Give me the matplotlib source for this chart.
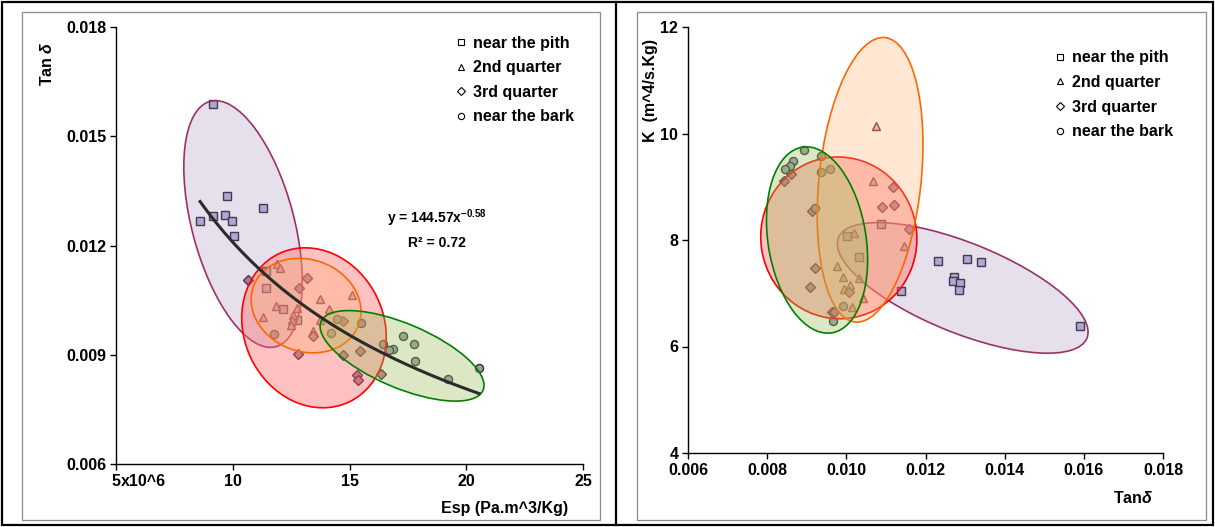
import numpy as np
import matplotlib
matplotlib.use('Agg')
import matplotlib.pyplot as plt
from matplotlib.patches import Ellipse, Rectangle
from matplotlib.lines import Line2D
from matplotlib.transforms import ScaledTranslation
from matplotlib.colors import to_rgba

plt.rcParams['font.family'] = ['Liberation Sans', 'DejaVu Sans']
plt.rcParams['font.weight'] = 'bold'
plt.rcParams['mathtext.fontset'] = 'custom'
plt.rcParams['mathtext.rm'] = 'Liberation Sans:bold'
plt.rcParams['mathtext.it'] = 'Liberation Sans:italic:bold'
plt.rcParams['mathtext.bf'] = 'Liberation Sans:bold'

# --- left panel: Esp (x10^6 Pa.m^3/Kg) against tan delta ---
pith_esp = [9.15, 9.75, 11.30, 8.60, 9.15, 9.67, 9.97, 10.05, 11.42, 11.42, 12.15, 12.75]
pith_tan = [0.01588, 0.01335, 0.01302, 0.01266, 0.01280, 0.01285, 0.01266, 0.01225,
            0.01131, 0.01084, 0.01027, 0.00996]
q2_esp = [11.90, 12.02, 13.74, 15.11, 11.85, 12.75, 14.12, 11.30, 12.58, 12.54, 12.49, 13.74, 13.44]
q2_tan = [0.01148, 0.01139, 0.01054, 0.01065, 0.01035, 0.01029, 0.01027, 0.01005,
          0.01010, 0.00996, 0.00983, 0.00996, 0.00966]
q3_esp = [10.65, 13.18, 12.84, 14.72, 13.44, 12.79, 14.72, 15.45, 15.32, 15.36, 16.35]
q3_tan = [0.01106, 0.01112, 0.01082, 0.00994, 0.00952, 0.00903, 0.00900, 0.00911,
          0.00845, 0.00831, 0.00848]
bark_esp = [11.77, 14.46, 15.49, 14.21, 16.43, 16.86, 16.69, 17.29, 17.76, 17.80, 19.22, 20.55]
bark_tan = [0.00958, 0.00999, 0.00988, 0.00961, 0.00930, 0.00916, 0.00914, 0.00952,
            0.00930, 0.00883, 0.00834, 0.00864]

# --- right panel: tan delta against K ---
pith_tan2 = [0.01087, 0.01002, 0.01032, 0.01138, 0.01231, 0.01305, 0.01340, 0.01272,
             0.01269, 0.01287, 0.01284, 0.01590]
pith_k = [8.30, 8.08, 7.68, 7.04, 7.61, 7.64, 7.59, 7.31, 7.23, 7.19, 7.06, 6.38]
q2_tan2 = [0.01075, 0.01067, 0.01019, 0.01145, 0.00976, 0.00991, 0.01032, 0.01009,
           0.00994, 0.01042, 0.01014]
q2_k = [10.14, 9.11, 8.13, 7.89, 7.51, 7.31, 7.29, 7.15, 7.08, 6.91, 6.74]
q3_tan2 = [0.00842, 0.00860, 0.00913, 0.01118, 0.01090, 0.01120, 0.01158, 0.00921,
           0.00908, 0.01007, 0.00964, 0.00969]
q3_k = [9.11, 9.24, 8.54, 9.00, 8.62, 8.66, 8.21, 7.47, 7.12, 7.02, 6.65, 6.65]
bark_tan2 = [0.00893, 0.00936, 0.00865, 0.00858, 0.00845, 0.00936, 0.00959, 0.00921,
             0.00991, 0.00966]
bark_k = [9.69, 9.58, 9.48, 9.39, 9.33, 9.28, 9.33, 8.60, 6.76, 6.48]

group_names = ['near the pith', '2nd quarter', '3rd quarter', 'near the bark']

# equation label of the power trendline
trend_label = r'y = 144.57x$^{-0.58}$'
r2_label = 'R² = 0.72'

markers = ['s', '^', 'D', 'o']
face_cols = ['#b8b8e2', '#e0b4b4', '#ad829f', '#95a1ae']
edge_cols = ['#333333', '#5a3535', '#3a2a3a', '#303030']
sizes = [5.8, 6.2, 5.2, 5.8]

FS = 11.5
W, H = 1215, 527
fig = plt.figure(figsize=(W / 100, H / 100), dpi=100)


def px_box(x0, y_top, x1, y_bot):
    return [x0 / W, 1 - y_bot / H, (x1 - x0) / W, (y_bot - y_top) / H]


ax1 = fig.add_axes(px_box(116, 27, 583, 464))
ax2 = fig.add_axes(px_box(688, 27, 1163, 453))


def add_ellipse(ax, cx, cy, a_px, b_px, angle, face, alpha, edge):
    # sizes given in screen pixels, centre in data units
    tr = fig.dpi_scale_trans + ScaledTranslation(cx, cy, ax.transData)
    e = Ellipse((0, 0), 2 * a_px / 100, 2 * b_px / 100, angle=angle, transform=tr,
                facecolor=to_rgba(face, alpha), edgecolor=edge, lw=1.2, zorder=3)
    ax.add_patch(e)


def style_axes(ax):
    for s in ['top', 'right']:
        ax.spines[s].set_visible(False)
    for s in ['left', 'bottom']:
        ax.spines[s].set_linewidth(1.0)
    ax.tick_params(direction='out', length=4, width=1.0, labelsize=FS, pad=3)
    for lab in ax.get_xticklabels() + ax.get_yticklabels():
        lab.set_fontweight('bold')


def add_legend(ax, anchor):
    handles = [Line2D([], [], marker=m, ls='none', mfc='white', mec='black', mew=0.8, ms=4.5)
               for m in markers]
    ax.legend(handles, group_names, loc='upper left', bbox_to_anchor=anchor, frameon=False,
              handlelength=0.6, handletextpad=0.45, labelspacing=0.6, borderaxespad=0,
              prop={'size': FS, 'weight': 'bold'})


# --- left plot ---
left_sets = [(pith_esp, pith_tan), (q2_esp, q2_tan), (q3_esp, q3_tan), (bark_esp, bark_tan)]
for i, (xs, ys) in enumerate(left_sets):
    ax1.plot(xs, ys, ls='none', marker=markers[i], ms=sizes[i], mfc=face_cols[i],
             mec=edge_cols[i], mew=1.0, zorder=2)

add_ellipse(ax1, 10.44, 0.01259, 127, 51, 105, '#8064a2', 0.2, '#993366')
add_ellipse(ax1, 13.48, 0.00974, 82, 70, 115, '#ff6666', 0.4, '#ff0000')
add_ellipse(ax1, 13.14, 0.01035, 56, 46, -20, '#ffb070', 0.3, '#ff6600')
add_ellipse(ax1, 17.25, 0.00897, 88, 32, -23, '#9bbb59', 0.35, '#008000')

# power trendline fitted through all points
all_x = np.concatenate([np.array(s[0]) for s in left_sets])
all_y = np.concatenate([np.array(s[1]) for s in left_sets])
slope, icpt = np.polyfit(np.log(all_x), np.log(all_y), 1)
xfit = np.linspace(all_x.min(), all_x.max(), 200)
ax1.plot(xfit, np.exp(icpt) * xfit ** slope, color='#2b2b2b', lw=2.2, zorder=4)

ax1.set_xlim(5, 25)
ax1.set_ylim(0.006, 0.018)
ax1.set_xticks([5, 10, 15, 20, 25])
ax1.set_xticklabels(['5', '10', '15', '20', '25'])
ax1.set_yticks([0.006, 0.009, 0.012, 0.015, 0.018])
ax1.set_yticklabels(['0.006', '0.009', '0.012', '0.015', '0.018'])
style_axes(ax1)
ax1.annotate('x10^6', xy=(5, 0), xycoords=('data', 'axes fraction'), xytext=(3.3, -7.2),
             textcoords='offset points', ha='left', va='top', fontsize=FS, fontweight='bold')
add_legend(ax1, (0.715, 0.995))

fig.text(437 / W, 1 - 218 / H, trend_label, ha='center', va='center', fontsize=10, fontweight='bold')
fig.text(437 / W, 1 - 243 / H, r2_label, ha='center', va='center', fontsize=10, fontweight='bold')
fig.text(47 / W, 1 - 64 / H, r'Tan $\delta$', rotation=90, ha='center', va='center',
         fontsize=FS, fontweight='bold')
fig.text(505 / W, 1 - 508 / H, 'Esp (Pa.m^3/Kg)', ha='center', va='center',
         fontsize=FS, fontweight='bold')

# --- right plot ---
right_sets = [(pith_tan2, pith_k), (q2_tan2, q2_k), (q3_tan2, q3_k), (bark_tan2, bark_k)]
for i, (xs, ys) in enumerate(right_sets):
    ax2.plot(xs, ys, ls='none', marker=markers[i], ms=sizes[i], mfc=face_cols[i],
             mec=edge_cols[i], mew=1.0, zorder=2)

add_ellipse(ax2, 0.01294, 7.10, 134, 45, -22, '#8064a2', 0.2, '#993366')
add_ellipse(ax2, 0.00981, 8.04, 81, 78, 100, '#ff6666', 0.4, '#ff0000')
add_ellipse(ax2, 0.01060, 9.13, 143, 51, 84, '#ffb070', 0.3, '#ff6600')
add_ellipse(ax2, 0.00926, 8.00, 94, 49, 99, '#9bbb59', 0.35, '#008000')

ax2.set_xlim(0.006, 0.018)
ax2.set_ylim(4, 12)
ax2.set_xticks([0.006, 0.008, 0.010, 0.012, 0.014, 0.016, 0.018])
ax2.set_xticklabels(['0.006', '0.008', '0.010', '0.012', '0.014', '0.016', '0.018'])
ax2.set_yticks([4, 6, 8, 10, 12])
ax2.set_yticklabels(['4', '6', '8', '10', '12'])
style_axes(ax2)
add_legend(ax2, (0.76, 0.96))

fig.text(650 / W, 1 - 90 / H, 'K  (m^4/s.Kg)', rotation=90, ha='center', va='center',
         fontsize=FS, fontweight='bold')
fig.text(1133 / W, 1 - 498 / H, r'Tan$\delta$', ha='center', va='center',
         fontsize=FS, fontweight='bold')

# frames: outer black border, divider, grey chart boxes
fig.add_artist(Rectangle((2 / W, 2 / H), (W - 4) / W, (H - 4) / H, transform=fig.transFigure,
                         fill=False, ec='black', lw=1.6))
fig.add_artist(Line2D([616 / W, 616 / W], [2 / H, 1 - 2 / H], transform=fig.transFigure,
                      color='black', lw=1.6))
fig.add_artist(Rectangle((22 / W, 1 - 520 / H), (600 - 22) / W, (520 - 12) / H,
                         transform=fig.transFigure, fill=False, ec='#8c8c8c', lw=0.9))
fig.add_artist(Rectangle((637 / W, 1 - 520 / H), (1206 - 637) / W, (520 - 12) / H,
                         transform=fig.transFigure, fill=False, ec='#8c8c8c', lw=0.9))

fig.savefig('out.png', dpi=100)
